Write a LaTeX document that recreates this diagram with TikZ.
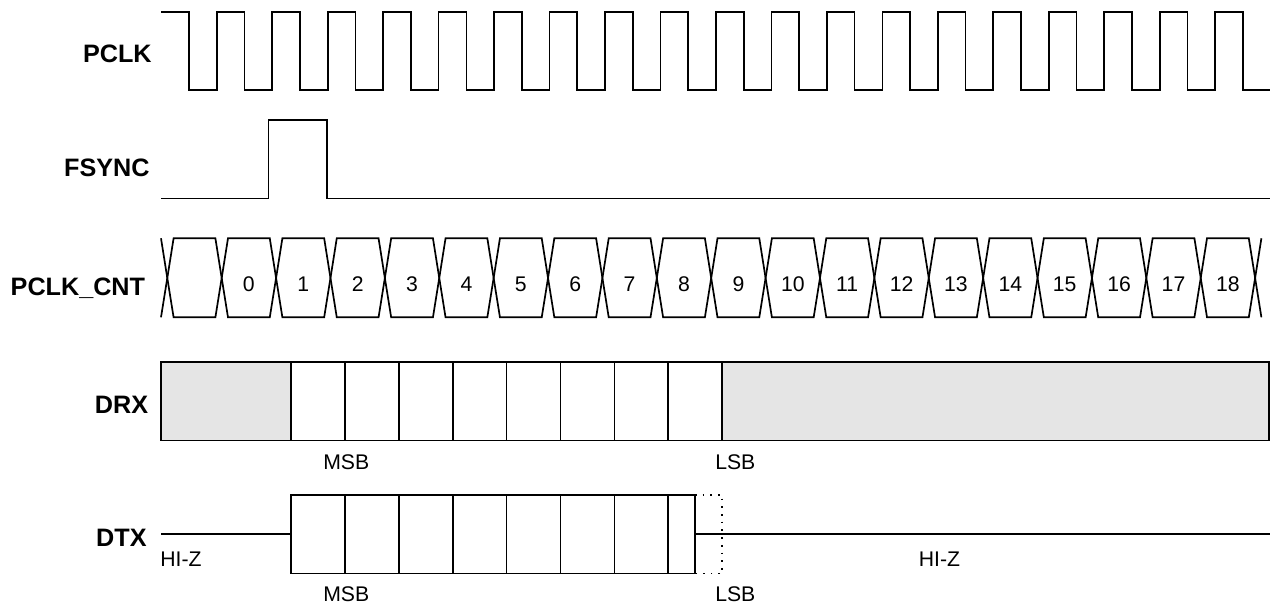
\documentclass[tikz,border=0pt]{standalone}
\usepackage{fontspec}
\setmainfont{Liberation Sans}
\usepackage[dvipsnames,svgnames]{xcolor}
\usepackage[]{tikz}
\tikzset{wave/.style={line width=0.85pt,black,line join=miter}}
\tikzset{signame/.style={font=\fontsize{12.6}{14}\selectfont\bfseries,anchor=base east,inner sep=0pt}}
\tikzset{val/.style={font=\fontsize{10.6}{12}\selectfont,anchor=base,inner sep=0pt}}
\tikzset{idle/.style={fill=gray!20}}
\tikzset{dotline/.style={line width=0.85pt,dash pattern=on 0.85pt off 3pt}}

\begin{document}
\begin{tikzpicture}[x=0.5pt,y=-0.5pt] % 1 unit = 1 px
            \useasboundingbox (0,0) rectangle (1270,607);
            % signal names
            \node[signame] (pclk) at (152,62.7) {PCLK};
            \node[signame] (fsync) at (150,176.7) {FSYNC};
            \node[signame] (cnt) at (145.5,295) {PCLK\_CNT};
            \node[signame] (drx) at (148.5,413.3) {DRX};
            \node[signame] (dtx) at (147,546.7) {DTX};
            % PCLK
            \draw[wave] (161,12) \foreach \k in {0,...,19}{ -| ({189+55.47*\k},90) -| ({216.73+55.47*\k},12) };
            % FSYNC
            \draw[wave] (161,198.5) -| (268.5,120) -| (327,198.5) -- (1270,198.5);
            % PCLK_CNT
            \draw[wave] (161,238.3) -- (167.3,278) -- (161,317.3);
            \draw[wave] (1261.4,238.3) -- (1255.1,278) -- (1261.4,317.3);
            \foreach \k in {0,...,19}{
                \pgfmathsetmacro\ca{167.3+54.39*\k}
                \pgfmathsetmacro\cb{167.3+54.39*(\k+1)}
                \draw[wave] (\ca,278) -- ({\ca+6.3},238.3) -- ({\cb-6.3},238.3) -- (\cb,278)
                    -- ({\cb-6.3},317.3) -- ({\ca+6.3},317.3) -- cycle;
            }
            \foreach \n in {0,...,18}
                \node[val] (cnt\n) at ({167.3+54.39*(\n+1.5)},291) {\n};
            % DRX
            \fill[idle] (161,362) rectangle (291,440.5);
            \fill[idle] (722.2,362) rectangle (1269,440.5);
            \draw[wave] (161,362) rectangle (1269,440.5);
            \foreach \k in {0,...,8} \draw[wave] ({291+53.9*\k},362) -- ({291+53.9*\k},440.5);
            \node[val] (drxmsb) at (346.3,469) {MSB};
            \node[val] (drxlsb) at (735.3,469) {LSB};
            % DTX
            \draw[wave] (161,534) -- (291,534);
            \draw[wave] (291,495) rectangle (695,573.5);
            \foreach \k in {1,...,7} \draw[wave] ({291+53.9*\k},495) -- ({291+53.9*\k},573.5);
            \draw[dotline] (695,495) -| (722.2,573.5) -- (695,573.5);
            \draw[wave] (695,534) -- (1270,534);
            \node[val,anchor=base west] (hiza) at (160,566.7) {HI-Z};
            \node[val] (hizb) at (939.5,566) {HI-Z};
            \node[val] (dtxmsb) at (346.3,601.7) {MSB};
            \node[val] (dtxlsb) at (735.3,601.7) {LSB};
        \end{tikzpicture}
\end{document}
